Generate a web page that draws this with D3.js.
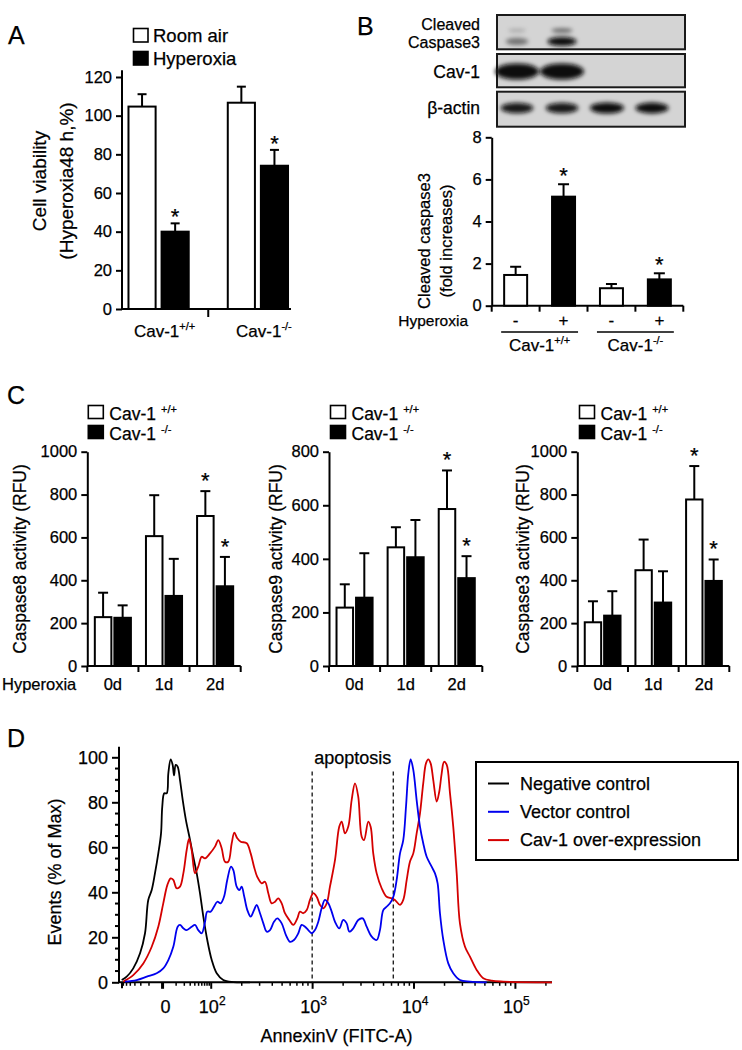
<!DOCTYPE html>
<html><head><meta charset="utf-8">
<script src="https://cdn.jsdelivr.net/npm/d3@7"></script>
<style>
body{margin:0;background:#fff;}
svg text{font-family:"Liberation Sans", Arial, Helvetica, sans-serif; fill:#000; stroke:#000; stroke-width:0.25px;}
</style></head><body>
<svg id="fig" width="742" height="1050"></svg>
<script>
// ================= DATA =================
// Panel A
const aGroups = ["+/+", "-/-"];              // Cav-1 genotype
const aSeries = ["Room air", "Hyperoxia"];
const aMeans  = [[104.7, 40.0], [106.7, 74.1]];
const aSD     = [[6.4, 4.3], [8.3, 8.2]];
const aStars  = [[false, true], [false, true]];
const aYTicks = [0, 20, 40, 60, 80, 100, 120];

// Panel B
const bHyperoxia = ["-", "+", "-", "+"];
const bGenotype  = ["+/+", "+/+", "-/-", "-/-"];
const bMeans     = [1.46, 5.18, 0.83, 1.25];
const bSD        = [0.39, 0.59, 0.20, 0.29];
const bStars     = [false, true, false, true];
const bYTicks    = [0, 2, 4, 6, 8];
const blotRows   = [["Cleaved", "Caspase3"], ["Cav-1"], ["β-actin"]];
// band intensity (0..1) per lane for each row / species
const blotCasp3Upper = [0.22, 0.55, 0, 0];
const blotCasp3Lower = [0.45, 1.0, 0, 0];
const blotCav1       = [1.0, 1.0, 0, 0];
const blotActin      = [0.9, 0.9, 1.0, 0.95];

// Panel C
const cDays   = ["0d", "1d", "2d"];
const cSeries = ["+/+", "-/-"];
const casp8Wt = [228, 606, 700], casp8WtSD = [114, 191, 116];
const casp8Ko = [225, 327, 372], casp8KoSD = [58, 173, 137];
const casp9Wt = [218, 443, 586], casp9WtSD = [87, 75, 144];
const casp9Ko = [255, 406, 328], casp9KoSD = [166, 139, 82];
const casp3Wt = [204, 447, 777], casp3WtSD = [98, 143, 156];
const casp3Ko = [235, 296, 397], casp3KoSD = [114, 146, 100];
const cStarsWt = [false, false, true];
const cStarsKo = [false, false, true];
const c8Ticks = [0, 200, 400, 600, 800, 1000];
const c9Ticks = [0, 200, 400, 600, 800];
const c3Ticks = [0, 200, 400, 600, 800, 1000];

// Panel D : [display channel (biexponential decades), % of max]
const dSeriesNames = ["Negative control", "Vector control", "Cav-1 over-expression"];
const negControl = [[1.117,1],[1.166,2.5],[1.231,6.2],[1.298,12.9],[1.347,21.8],[1.379,36.6],[1.413,41],[1.445,48.4],[1.478,57.3],[1.505,66.2],[1.517,78],[1.537,84],[1.561,84],[1.577,92.9],[1.600,99.1],[1.620,96.6],[1.633,92],[1.650,96.6],[1.669,95.8],[1.692,89.9],[1.719,81],[1.751,72],[1.791,63.3],[1.823,55.8],[1.857,48.4],[1.889,39.6],[1.922,29.2],[1.961,18.8],[2.005,9.9],[2.054,4],[2.119,1],[2.218,0.1],[2.382,0]];
const vecControl = [[1.150,0.3],[1.265,1],[1.364,2.5],[1.462,4],[1.527,6.2],[1.577,9.9],[1.626,15.8],[1.669,24.7],[1.692,25.5],[1.725,24],[1.758,23.2],[1.807,24.7],[1.840,25.5],[1.872,23.2],[1.906,21.8],[1.939,26.9],[1.961,31.4],[1.995,31.4],[2.027,33.6],[2.060,35.8],[2.093,35.1],[2.126,38],[2.158,45.5],[2.195,51.4],[2.218,49.9],[2.251,42.5],[2.277,41],[2.300,42.5],[2.326,38],[2.356,32.1],[2.389,29.2],[2.422,32.1],[2.448,34.4],[2.481,30.7],[2.514,26.2],[2.547,22.5],[2.580,23.2],[2.619,26.9],[2.652,28.4],[2.695,26.2],[2.737,21],[2.777,18],[2.816,18.8],[2.859,21.8],[2.892,25.5],[2.925,24.7],[2.957,23.2],[2.991,21.8],[3.023,23.2],[3.056,26.9],[3.089,32.9],[3.122,36.6],[3.155,35.1],[3.188,31.4],[3.221,26.9],[3.263,24],[3.302,27.7],[3.336,26.2],[3.362,22.5],[3.401,24],[3.450,27.7],[3.494,28.4],[3.533,24.7],[3.583,20.3],[3.632,18.8],[3.664,23.2],[3.697,32.1],[3.730,33.6],[3.763,35.1],[3.796,38],[3.829,45.5],[3.862,57.3],[3.894,63.2],[3.921,78],[3.944,92.9],[3.967,99.1],[3.993,94.4],[4.026,81],[4.059,69.2],[4.091,61.8],[4.125,55.8],[4.174,51.4],[4.207,48.4],[4.233,44],[4.256,30.7],[4.289,18.8],[4.338,8.4],[4.387,4],[4.453,1],[4.552,0.3],[4.717,0]];
const cavOverexp = [[1.133,0.3],[1.231,3.2],[1.330,8.4],[1.413,15.8],[1.478,24.7],[1.527,35.1],[1.567,43.2],[1.600,46.2],[1.626,45.5],[1.659,41.8],[1.692,42.5],[1.725,48.4],[1.758,58.8],[1.781,63.7],[1.807,58.8],[1.840,48.4],[1.872,51.4],[1.906,55.8],[1.939,55.1],[1.988,57.3],[2.037,60.3],[2.070,63.2],[2.103,59.6],[2.136,53.6],[2.168,53.6],[2.202,61.8],[2.228,66.5],[2.257,64],[2.291,62.5],[2.350,61.8],[2.389,57.3],[2.422,51.4],[2.454,46.9],[2.498,44],[2.530,44.7],[2.563,39.6],[2.596,35.1],[2.629,35.8],[2.661,37.3],[2.695,35.1],[2.727,30.7],[2.770,27.7],[2.809,25.5],[2.849,28.4],[2.875,31.4],[2.908,30.7],[2.942,32.1],[2.974,36.6],[3.007,39.6],[3.040,38],[3.073,34.4],[3.105,32.9],[3.139,35.1],[3.171,42.5],[3.221,54.4],[3.263,69.2],[3.287,71.4],[3.319,66.2],[3.352,69.2],[3.385,81],[3.418,88.4],[3.450,82.5],[3.484,64.7],[3.507,63.2],[3.549,71.4],[3.573,69],[3.598,57.3],[3.632,48.4],[3.681,41.8],[3.730,38],[3.780,37.3],[3.812,36.6],[3.862,34.4],[3.894,36.6],[3.928,45.5],[3.960,53.6],[3.993,57.3],[4.026,66.2],[4.059,75.1],[4.091,88.4],[4.118,97.3],[4.141,99.1],[4.164,97.3],[4.190,89.9],[4.224,80.3],[4.249,84.7],[4.273,92.9],[4.296,98],[4.322,96.7],[4.355,84],[4.387,69.2],[4.421,48.4],[4.453,26.2],[4.503,15.8],[4.552,11.4],[4.618,5.5],[4.683,1.8],[4.766,0.7],[4.880,0.3],[5.361,0]];
const dGates = [990, 6250];                  // apoptosis gate (AnnexinV intensity)
const dMajorTicks = [0, 100, 1000, 10000, 100000];
const dMajorLabels = [["0",""], ["10","2"], ["10","3"], ["10","4"], ["10","5"]];
const dMinorTicks = [-60,-50,-40,-30,-20,-10,10,20,30,40,50,60,70,80,90,
  200,300,400,500,600,700,800,900,2000,3000,4000,5000,6000,7000,8000,9000,
  20000,30000,40000,50000,60000,70000,80000,90000,200000];
const dYTicks = [0, 20, 40, 60, 80, 100];

// ================= HELPERS =================
const svg = d3.select("#fig");
const defs = svg.append("defs");
const flt = defs.append("filter").attr("id","blur").attr("x","-60%").attr("y","-150%").attr("width","220%").attr("height","400%");
flt.append("feGaussianBlur").attr("stdDeviation", 2.0);

function text(g, x, y, s, size, anchor) {
  return g.append("text").attr("x", x).attr("y", y).attr("font-size", size)
    .attr("text-anchor", anchor || "start").text(s);
}
function supText(g, x, y, main, sup, size, supSize, anchor, gap) {
  const t = g.append("text").attr("x", x).attr("y", y).attr("font-size", size)
    .attr("text-anchor", anchor || "middle");
  t.append("tspan").text(main);
  t.append("tspan").attr("font-size", supSize).attr("dy", -size * 0.42).attr("dx", gap || 0).text(sup);
  return t;
}
function rotText(g, x, y, s, size) {
  return g.append("text").attr("transform", `translate(${x},${y}) rotate(-90)`)
    .attr("font-size", size).attr("text-anchor", "middle").text(s);
}
function styleAxis(ax, w) {
  ax.selectAll("path.domain").attr("stroke", "#000").attr("stroke-width", w || 2);
  ax.selectAll(".tick line").attr("stroke", "#000").attr("stroke-width", w || 2);
  ax.selectAll(".tick text").attr("fill", "#000").attr("font-family", "Liberation Sans, Arial, sans-serif");
}
function errBar(g, cx, yBase, yTop, cap, w) {
  g.append("line").attr("x1", cx).attr("x2", cx).attr("y1", yBase).attr("y2", yTop)
    .attr("stroke", "#000").attr("stroke-width", w || 2);
  g.append("line").attr("x1", cx - cap / 2).attr("x2", cx + cap / 2).attr("y1", yTop).attr("y2", yTop)
    .attr("stroke", "#000").attr("stroke-width", w || 2);
}
const fmt = d3.format("d");

// panel letters
text(svg, 8, 44, "A", 25);
text(svg, 357, 35, "B", 25);
text(svg, 7, 404, "C", 25);
text(svg, 7, 747, "D", 25);

// ================= PANEL A =================
(function () {
  const g = svg.append("g");
  const y = d3.scaleLinear().domain([0, 120]).range([309, 77]);
  const slot = d3.scaleBand().domain(d3.range(5)).range([125.5, 291]).paddingInner(0.18).paddingOuter(0.09);
  const bw = slot.bandwidth();
  const x0 = 122;
  // legend
  aSeries.forEach((s, i) => {
    g.append("rect").attr("x", 133.5).attr("y", 28.5 + i * 23).attr("width", 14.5).attr("height", 13.5)
      .attr("fill", i ? "#000" : "#fff").attr("stroke", "#000").attr("stroke-width", 1.6);
    text(g, 153, 41.5 + i * 23, s, 18.5);
  });
  // y axis
  const ax = g.append("g").attr("transform", `translate(${x0},0)`)
    .call(d3.axisLeft(y).tickValues(aYTicks).tickSize(6).tickSizeOuter(0).tickPadding(4));
  ax.selectAll(".tick text").attr("font-size", 16.5);
  styleAxis(ax);
  ax.select("path.domain").attr("d", `M0,${y(0)}V${y(123.5)}`);
  // x axis
  g.append("line").attr("x1", x0).attr("x2", 291).attr("y1", y(0)).attr("y2", y(0)).attr("stroke", "#000").attr("stroke-width", 2);
  const mid = slot(2) + bw / 2;
  g.append("line").attr("x1", mid).attr("x2", mid).attr("y1", y(0)).attr("y2", y(0) + 8).attr("stroke", "#000").attr("stroke-width", 2);
  aGroups.forEach((gr, gi) => {
    aSeries.forEach((s, si) => {
      const xx = slot(gi * 3 + si), v = aMeans[gi][si], sd = aSD[gi][si];
      errBar(g, xx + bw / 2, y(v), y(v + sd), 9);
      g.append("rect").attr("x", xx).attr("y", y(v)).attr("width", bw).attr("height", y(0) - y(v))
        .attr("fill", si ? "#000" : "#fff").attr("stroke", "#000").attr("stroke-width", 2);
      if (aStars[gi][si]) text(g, xx + bw / 2, y(v + sd) + 1, "*", 22, "middle");
    });
    const cx = (slot(gi * 3) + slot(gi * 3 + 1) + bw) / 2 + 6;
    supText(g, cx, 337, "Cav-1", gr, 17, 11);
  });
  rotText(g, 46, 181, "Cell viability", 19);
  rotText(g, 72.5, 181, "(Hyperoxia48 h,%)", 19);
})();

// ================= PANEL B =================
(function () {
  const g = svg.append("g");
  // blots
  const boxes = [[15, 49.3], [54, 87.3], [91.7, 126.7]];
  const lane = d3.scalePoint().domain(d3.range(4)).range([517, 652]);
  boxes.forEach(b => {
    g.append("rect").attr("x", 497).attr("y", b[0]).attr("width", 188).attr("height", b[1] - b[0])
      .attr("fill", "#d4d4d4").attr("stroke", "#1a1a1a").attr("stroke-width", 2);
  });
  const bands = g.append("g").attr("filter", "url(#blur)");
  function drawBands(arr, cy, w, h) {
    arr.forEach((lv, i) => {
      if (lv <= 0) return;
      bands.append("ellipse").attr("cx", lane(i)).attr("cy", cy)
        .attr("rx", (w / 2) * (0.6 + 0.4 * lv)).attr("ry", (h / 2) * (0.55 + 0.45 * lv))
        .attr("fill", "#0a0a0a").attr("fill-opacity", Math.min(1, lv * 1.05));
    });
  }
  drawBands(blotCasp3Upper, 30.5, 26, 5);
  drawBands(blotCasp3Lower, 41.5, 29, 9);
  drawBands(blotCav1, 71.5, 44, 16);
  drawBands(blotActin, 108, 34, 11);
  // row labels
  text(g, 480, 29.5, blotRows[0][0], 16, "end");
  text(g, 480, 48, blotRows[0][1], 16, "end");
  text(g, 480, 78, blotRows[1][0], 17.5, "end");
  text(g, 480, 114, blotRows[2][0], 17.5, "end");

  const y = d3.scaleLinear().domain([0, 8]).range([305.7, 137.3]);
  const x = d3.scaleBand().domain(d3.range(4)).range([491.7, 683.3]).paddingInner(0.52).paddingOuter(0.26);
  const ax = g.append("g").attr("transform", "translate(491.7,0)")
    .call(d3.axisLeft(y).tickValues(bYTicks).tickSize(6).tickSizeOuter(0).tickPadding(4));
  ax.selectAll(".tick text").attr("font-size", 16.5);
  styleAxis(ax);
  g.append("line").attr("x1", 491.7).attr("x2", 683.3).attr("y1", y(0)).attr("y2", y(0)).attr("stroke", "#000").attr("stroke-width", 2);
  d3.range(5).forEach(k => {
    const xx = 491.7 + k * x.step();
    g.append("line").attr("x1", xx).attr("x2", xx).attr("y1", y(0)).attr("y2", y(0) + 6).attr("stroke", "#000").attr("stroke-width", 2);
  });
  bMeans.forEach((v, i) => {
    const xx = x(i), bw = x.bandwidth();
    errBar(g, xx + bw / 2, y(v), y(v + bSD[i]), 11);
    g.append("rect").attr("x", xx).attr("y", y(v)).attr("width", bw).attr("height", y(0) - y(v))
      .attr("fill", i % 2 ? "#000" : "#fff").attr("stroke", "#000").attr("stroke-width", 2);
    if (bStars[i]) text(g, xx + bw / 2, y(v + bSD[i]) - 1, "*", 22, "middle");
    text(g, xx + bw / 2, 326, bHyperoxia[i], 17, "middle");
  });
  text(g, 468, 326, "Hyperoxia", 15.5, "end");
  // genotype underlines
  [[0, 1], [2, 3]].forEach((pr, k) => {
    const x1 = x(pr[0]) - 3, x2 = x(pr[1]) + x.bandwidth() + 3;
    g.append("line").attr("x1", x1).attr("x2", x2).attr("y1", 332).attr("y2", 332).attr("stroke", "#000").attr("stroke-width", 1.6);
    supText(g, (x1 + x2) / 2, 351, "Cav-1", bGenotype[pr[0]], 17, 11);
  });
  rotText(g, 430, 241, "Cleaved caspase3", 16.5);
  rotText(g, 451.5, 241, "(fold increases)", 16.5);
})();

// ================= PANEL C =================
function cPanel(x0, x1, yMax, yTop, ticks, wt, wtSD, ko, koSD, title, titleX, legendX, showHyper) {
  const g = svg.append("g");
  const y = d3.scaleLinear().domain([0, yMax]).range([666, yTop]);
  const gx = d3.scaleBand().domain(cDays).range([x0, x1]);
  const ix = d3.scaleBand().domain(cSeries).range([0, gx.step()]).paddingInner(0.154).paddingOuter(0.385);
  const bw = ix.bandwidth();
  // legend
  cSeries.forEach((s, i) => {
    g.append("rect").attr("x", legendX + 1).attr("y", 405.5 + i * 20).attr("width", 15).attr("height", 13)
      .attr("fill", i ? "#000" : "#fff").attr("stroke", "#000").attr("stroke-width", 1.6);
    supText(g, legendX + 22, 420 + i * 20, "Cav-1", s, 17.5, 11, "start", 5);
  });
  const ax = g.append("g").attr("transform", `translate(${x0},0)`)
    .call(d3.axisLeft(y).tickValues(ticks).tickFormat(fmt).tickSize(6).tickSizeOuter(0).tickPadding(4));
  ax.selectAll(".tick text").attr("font-size", 16.5);
  styleAxis(ax);
  g.append("line").attr("x1", x0).attr("x2", x1).attr("y1", y(0)).attr("y2", y(0)).attr("stroke", "#000").attr("stroke-width", 2);
  [x0].concat(cDays.map(d => gx(d) + gx.step())).forEach(xx => {
    g.append("line").attr("x1", xx).attr("x2", xx).attr("y1", y(0)).attr("y2", y(0) + 6).attr("stroke", "#000").attr("stroke-width", 2);
  });
  cDays.forEach((d, di) => {
    [[wt, wtSD, cStarsWt, "#fff"], [ko, koSD, cStarsKo, "#000"]].forEach((ser, si) => {
      const xx = gx(d) + ix(cSeries[si]), v = ser[0][di], sd = ser[1][di];
      errBar(g, xx + bw / 2, y(v), y(v + sd), 10);
      g.append("rect").attr("x", xx).attr("y", y(v)).attr("width", bw).attr("height", y(0) - y(v))
        .attr("fill", ser[3]).attr("stroke", "#000").attr("stroke-width", 2);
      if (ser[2][di]) text(g, xx + bw / 2, y(v + sd) - 3, "*", 22, "middle");
    });
    text(g, gx(d) + gx.step() / 2, 690, d, 16.5, "middle");
  });
  if (showHyper) text(g, 2, 690, "Hyperoxia", 16.5, "start");
  rotText(g, titleX, 559, title, 17.5);
}
cPanel(87.3, 240.7, 1000, 451.7, c8Ticks, casp8Wt, casp8WtSD, casp8Ko, casp8KoSD, "Caspase8 activity (RFU)", 26, 87.3, true);
cPanel(329, 482.3, 800, 451.7, c9Ticks, casp9Wt, casp9WtSD, casp9Ko, casp9KoSD, "Caspase9 activity (RFU)", 281.5, 329.5, false);
cPanel(577.3, 729.3, 1000, 451.7, c3Ticks, casp3Wt, casp3WtSD, casp3Ko, casp3KoSD, "Caspase3 activity (RFU)", 528.5, 578.5, false);

// ================= PANEL D =================
(function () {
  const g = svg.append("g");
  // biexponential display transform (decades)
  function biex(v) {
    if (v >= 100) return Math.log10(v);
    const s = v < 0 ? -1 : 1;
    return 1.52 + s * 0.48 * Math.log10(1 + 0.09 * Math.abs(v));
  }
  const x = d3.scaleLinear().domain([1.12, 5.361]).range([122, 552]);
  const y = d3.scaleLinear().domain([0, 100]).range([982.3, 757.3]);
  // y axis
  const ax = g.append("g").attr("transform", "translate(119,0)")
    .call(d3.axisLeft(y).tickValues(dYTicks).tickSize(7).tickSizeOuter(0).tickPadding(4));
  ax.selectAll(".tick text").attr("font-size", 18);
  styleAxis(ax);
  ax.select("path.domain").attr("d", `M0,${y(0)}V${y(104.7)}`);
  d3.range(5, 100, 5).filter(v => v % 20).forEach(v => {
    g.append("line").attr("x1", 119).attr("x2", 115).attr("y1", y(v)).attr("y2", y(v)).attr("stroke", "#000").attr("stroke-width", 2);
  });
  // x axis
  g.append("line").attr("x1", 118).attr("x2", 552).attr("y1", y(0)).attr("y2", y(0)).attr("stroke", "#000").attr("stroke-width", 2);
  g.append("line").attr("x1", x(1.12)).attr("x2", x(1.12)).attr("y1", y(0)).attr("y2", y(0) + 6).attr("stroke", "#000").attr("stroke-width", 2);
  dMinorTicks.forEach(v => {
    const xx = x(biex(v));
    g.append("line").attr("x1", xx).attr("x2", xx).attr("y1", y(0)).attr("y2", y(0) + 3.5).attr("stroke", "#000").attr("stroke-width", 1.5);
  });
  dMajorTicks.forEach((v, i) => {
    const xx = x(biex(v));
    g.append("line").attr("x1", xx).attr("x2", xx).attr("y1", y(0)).attr("y2", y(0) + 6.5).attr("stroke", "#000").attr("stroke-width", i === 0 ? 3 : 2);
    supText(g, xx + (i === 0 ? 3 : 1), 1013, dMajorLabels[i][0], dMajorLabels[i][1], 18, 12);
  });
  // gates
  dGates.forEach(v => {
    g.append("line").attr("x1", x(biex(v))).attr("x2", x(biex(v))).attr("y1", 771.5).attr("y2", y(0))
      .attr("stroke", "#222").attr("stroke-width", 1.4).attr("stroke-dasharray", "4,3");
  });
  text(g, x(biex(dGates[0])) + 2, 764, "apoptosis", 18, "start");
  // curves
  const line = d3.line().x(d => x(d[0])).y(d => y(d[1])).curve(d3.curveCatmullRom.alpha(0.5));
  const series = [[negControl, "#000"], [vecControl, "#0000ee"], [cavOverexp, "#d40000"]];
  [series[0], series[2], series[1]].forEach(s => {
    g.append("path").attr("d", line(s[0])).attr("fill", "none").attr("stroke", s[1]).attr("stroke-width", 1.8);
  });
  // legend
  g.append("rect").attr("x", 476).attr("y", 762).attr("width", 262).attr("height", 98)
    .attr("fill", "#fff").attr("stroke", "#000").attr("stroke-width", 2);
  dSeriesNames.forEach((n, i) => {
    g.append("line").attr("x1", 488).attr("x2", 509).attr("y1", 783.5 + i * 28.3).attr("y2", 783.5 + i * 28.3)
      .attr("stroke", series[i][1]).attr("stroke-width", 2);
    text(g, 520, 789.5 + i * 28.3, n, 18, "start");
  });
  rotText(g, 61, 872, "Events (% of Max)", 18);
  text(g, 336.5, 1042, "AnnexinV (FITC-A)", 18, "middle");
})();
</script>
</body></html>
